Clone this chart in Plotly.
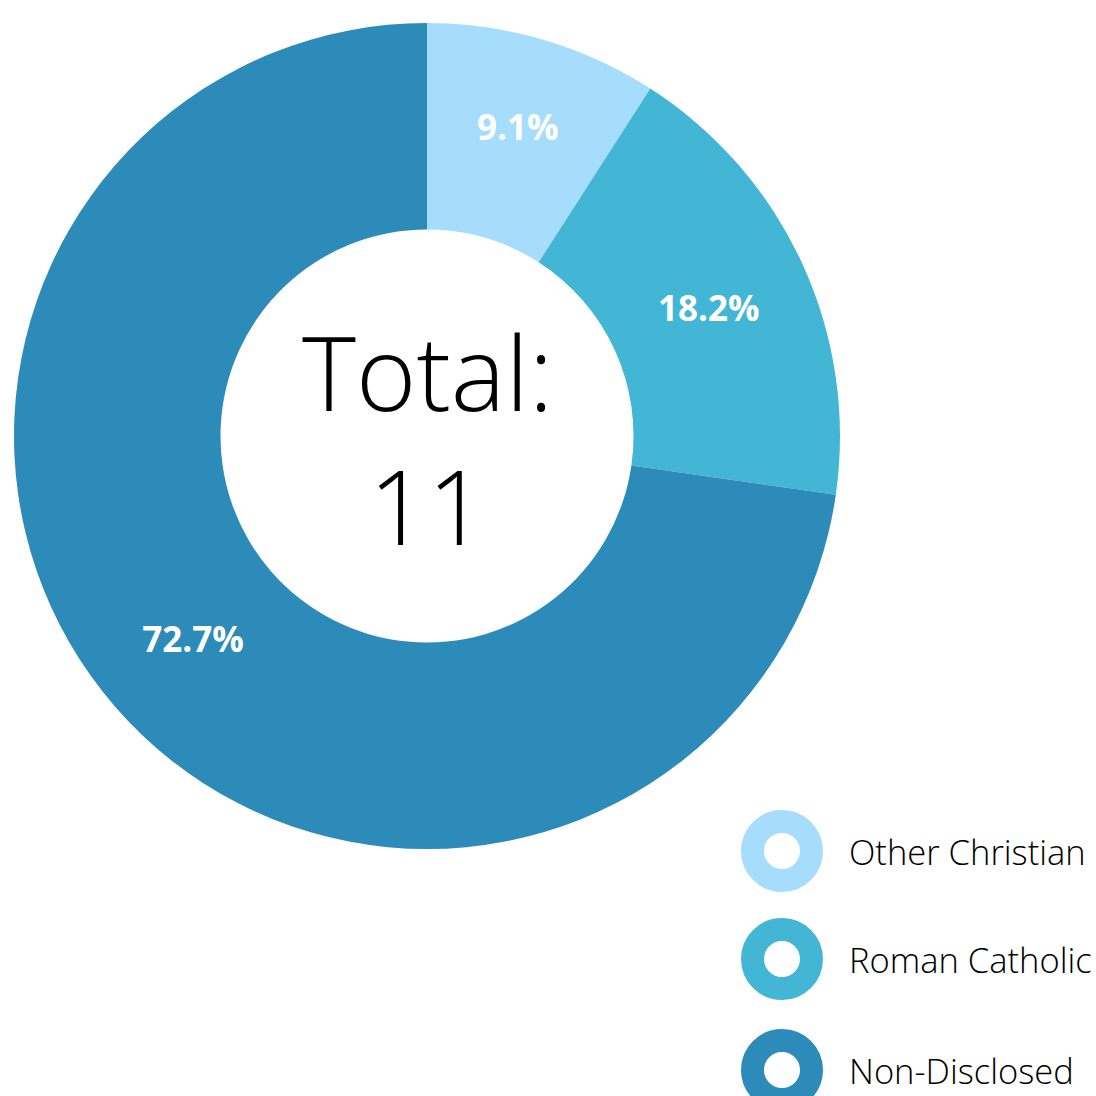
import plotly.graph_objects as go

categories = ["Other Christian", "Roman Catholic", "Non-Disclosed"]
counts = [1, 2, 8]
colors = ["#A6DDFC", "#43B6D6", "#2D8BBA"]
center_label = "Total:"

W = H = 1096
total = sum(counts)

fig = go.Figure()
fig.add_trace(go.Pie(
    labels=categories,
    values=counts,
    hole=0.5,
    sort=False,
    direction="clockwise",
    rotation=0,
    marker=dict(colors=colors, line=dict(width=0)),
    texttemplate="%{percent:.1%}",
    textposition="inside",
    insidetextorientation="horizontal",
    insidetextfont=dict(family="Open Sans", size=35, color="white", weight=700),
    domain=dict(x=[14 / W, 840 / W], y=[1 - 849 / H, 1 - 23 / H]),
    showlegend=False,
    hoverinfo="label+value+percent",
))

# Center text
fig.add_annotation(
    x=427 / W, y=1 - 438 / H, xref="paper", yref="paper",
    text=f"{center_label}<br>{total}", showarrow=False,
    font=dict(family="Open Sans", size=103, color="black", weight=300),
    xanchor="center", yanchor="middle", align="center",
)

# Custom legend: rings + labels
legend_cx = 782
legend_cy = [851, 959, 1070]
r_mid = 29.5
ring_w = 23
for cat, col, cy in zip(categories, colors, legend_cy):
    fig.add_shape(
        type="circle", xref="paper", yref="paper",
        x0=(legend_cx - r_mid) / W, x1=(legend_cx + r_mid) / W,
        y0=1 - (cy + r_mid) / H, y1=1 - (cy - r_mid) / H,
        line=dict(color=col, width=ring_w), fillcolor="white", layer="above",
    )
    fig.add_annotation(
        x=847 / W, y=1 - cy / H, xref="paper", yref="paper",
        text=cat, showarrow=False, xanchor="left", yanchor="middle",
        font=dict(family="Open Sans", size=34.5, color="black", weight=300),
    )

fig.update_layout(
    width=W, height=H,
    margin=dict(l=0, r=0, t=0, b=0),
    paper_bgcolor="white", plot_bgcolor="white",
)

fig.write_html(
    "out.html",
    config={"displayModeBar": False},
    post_script="document.body.style.margin='0';document.body.style.overflow='hidden';",
)
